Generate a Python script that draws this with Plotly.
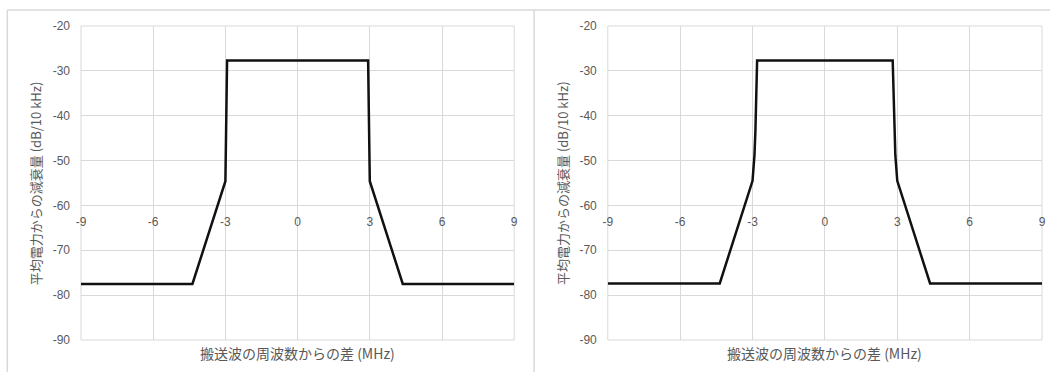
import plotly.graph_objects as go

# ---- data ----
x_left = [-9, -4.37, -3.0, -2.93, 2.93, 3.0, 4.37, 9]
y_left = [-77.5, -77.5, -54.6, -27.7, -27.7, -54.6, -77.5, -77.5]

x_right = [-9, -4.36, -3.0, -2.92, -2.88, -2.81, 2.81, 2.88, 2.92, 3.0, 4.36, 9]
y_right = [-77.4, -77.4, -54.5, -48.8, -43.2, -27.7, -27.7, -43.2, -48.8, -54.5, -77.4, -77.4]

x_ticks = [-9, -6, -3, 0, 3, 6, 9]
x_tick_labels = ["-9", "-6", "-3", "0", "3", "6", "9"]
y_ticks = [-20, -30, -40, -50, -60, -70, -80, -90]
y_tick_labels = ["-20", "-30", "-40", "-50", "-60", "-70", "-80", "-90"]
x_title = "搬送波の周波数からの差 (MHz)"
y_title = "平均電力からの減衰量 (dB/10 kHz)"

# ---- layout geometry (pixels) ----
W, H = 1054, 372
ML, MR, MT, MB = 81, 8, 26, 32
PW = W - ML - MR
PH = H - MT - MB


def px_x(p):
    return (p - ML) / PW


def px_y(p):
    return (H - MB - p) / PH


GRID = "#d9d9d9"
TXT = "#595959"
tick_font = dict(family="Liberation Sans, Arial", size=12, color=TXT)
title_font = dict(family="Noto Sans CJK JP", size=14, color=TXT)

fig = go.Figure()
fig.add_trace(go.Scatter(x=x_left, y=y_left, mode="lines",
                         line=dict(color="#111111", width=2.5),
                         xaxis="x", yaxis="y", showlegend=False))
fig.add_trace(go.Scatter(x=x_right, y=y_right, mode="lines",
                         line=dict(color="#111111", width=2.5),
                         xaxis="x2", yaxis="y2", showlegend=False))

dom1 = [0, px_x(516)]
dom2 = [px_x(610), 1]
xpos = (-60 - (-90)) / 70.0

xa = dict(range=[-9, 9], tickvals=x_ticks, ticktext=x_tick_labels,
          showgrid=True, gridcolor=GRID,
          gridwidth=1, zeroline=False, showline=False, ticks="",
          tickfont=tick_font, ticklabelstandoff=8, fixedrange=True)
ya = dict(range=[-90, -20], tickvals=y_ticks, ticktext=y_tick_labels,
          showgrid=True, gridcolor=GRID,
          gridwidth=1, zeroline=False, showline=False, ticks="",
          tickfont=tick_font, ticklabelstandoff=10, domain=[0, 1])

fig.update_layout(
    width=W, height=H,
    margin=dict(l=ML, r=MR, t=MT, b=MB),
    paper_bgcolor="white", plot_bgcolor="white",
    xaxis=dict(**xa, domain=dom1, anchor="free", position=xpos),
    yaxis=dict(**ya, anchor="x"),
    xaxis2=dict(**xa, domain=dom2, anchor="free", position=xpos),
    yaxis2=dict(**ya, anchor="x2"),
)

shapes = []
for xr, yr in (("x domain", "y domain"), ("x2 domain", "y2 domain")):
    shapes.append(dict(type="rect", xref=xr, yref=yr, x0=0, x1=1, y0=0, y1=1,
                       line=dict(color=GRID, width=1), layer="below"))
# panel frames
frame = "#d9d9d9"
shapes.append(dict(type="line", xref="paper", yref="paper",
                   x0=px_x(7), x1=px_x(1054), y0=px_y(10), y1=px_y(10),
                   line=dict(color=frame, width=1.5)))
shapes.append(dict(type="line", xref="paper", yref="paper",
                   x0=px_x(7), x1=px_x(7), y0=px_y(10), y1=px_y(372),
                   line=dict(color=frame, width=1.5)))
shapes.append(dict(type="line", xref="paper", yref="paper",
                   x0=px_x(536), x1=px_x(536), y0=px_y(10), y1=px_y(372),
                   line=dict(color=frame, width=1.5)))
fig.update_layout(shapes=shapes)

annotations = []
for (l, r) in ((81, 516), (610, 1046)):
    annotations.append(dict(text=x_title, xref="paper", yref="paper",
                            x=px_x((l + r) / 2), y=px_y(353), showarrow=False,
                            font=title_font, xanchor="center", yanchor="middle"))
    annotations.append(dict(text=y_title, xref="paper", yref="paper",
                            x=px_x(l - 46), y=px_y(183), showarrow=False,
                            textangle=-90, font=dict(title_font, size=13),
                            xanchor="center", yanchor="middle"))
fig.update_layout(annotations=annotations)

fig.write_html(
    "out.html",
    config={"displayModeBar": False},
    post_script="document.body.style.margin='0';document.body.style.overflow='hidden';",
)
